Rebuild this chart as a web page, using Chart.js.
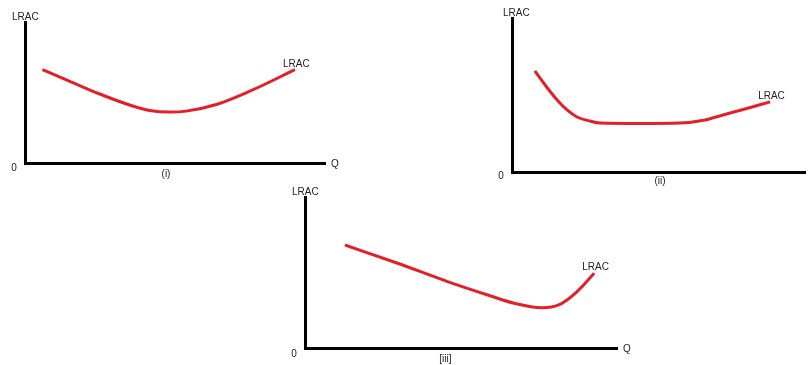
<!DOCTYPE html>
<html>
<head>
<meta charset="utf-8">
<script src="https://cdn.jsdelivr.net/npm/chart.js@4/dist/chart.umd.min.js"></script>
<style>
  body { margin: 0; background: #fff; }
  #wrap { position: relative; width: 812px; height: 365px; overflow: hidden; }
  canvas { position: absolute; }
</style>
</head>
<body>
<div id="wrap">
  <canvas id="panel-i"></canvas>
  <canvas id="panel-ii"></canvas>
  <canvas id="panel-iii"></canvas>
</div>
<script>
// axis / curve labels
const yAxisLabel = 'LRAC';
const xAxisLabel = 'Q';
const originLabel = '0';
const curveLabel = 'LRAC';
const captions = ['(i)', '(ii)', '[iii]'];

// panel (i): U-shaped LRAC
const qI = [5.8, 13.6, 24.7, 35.9, 41.5, 48.2, 53.7, 63.8, 74.9, 90];
const costI = [66.2, 59.2, 49.1, 40.4, 37.3, 36.1, 36.8, 41.5, 50.9, 66.2];

// panel (ii): steep fall, long flat bottom, slow rise
const qII = [7.8, 11.3, 15.4, 18.8, 22.2, 26.6, 30.0, 43.7, 57.3, 65.9, 72.0, 79.5, 88.1];
const costII = [65.6, 56.5, 46.8, 40.3, 35.7, 33.1, 31.8, 31.5, 31.8, 33.8, 37.0, 40.9, 45.5];

// panel (iii): long slow fall, sharp rise
const qIII = [12.8, 29.7, 45.7, 58.6, 67.1, 75.9, 81.3, 86.6, 92.7];
const costIII = [68.2, 56.1, 44.0, 35.1, 29.6, 26.7, 28.5, 36.2, 49.5];

const labelFont = '10px "Liberation Sans", Arial, sans-serif';

// draws the text labels around each panel, placed from the scales
const econLabels = {
  id: 'econLabels',
  afterDraw(chart, args, opts) {
    const ctx = chart.ctx;
    const area = chart.chartArea;
    const xs = chart.scales.x;
    ctx.save();
    ctx.font = labelFont;
    ctx.fillStyle = '#222';

    // y axis title above the axis
    ctx.textAlign = 'left';
    ctx.textBaseline = 'alphabetic';
    ctx.fillText(yAxisLabel, area.left + opts.topDx, area.top - 2);

    // origin
    ctx.textAlign = 'center';
    ctx.textBaseline = 'middle';
    ctx.fillText(originLabel, area.left - 11, area.bottom + opts.zeroDy);

    // Q at end of x axis
    if (opts.showQ) {
      ctx.textAlign = 'left';
      ctx.fillText(xAxisLabel, area.right + 6, area.bottom + 1);
    }

    // caption under x axis
    ctx.textAlign = 'center';
    ctx.fillText(opts.caption, xs.getPixelForValue(opts.captionAt), area.bottom + opts.captionDy);

    // curve label near the last point
    const pts = chart.getDatasetMeta(0).data;
    const last = pts[pts.length - 1];
    ctx.textAlign = 'left';
    ctx.textBaseline = 'alphabetic';
    ctx.fillText(curveLabel, last.x - 12, last.y - 3);
    ctx.restore();
  }
};

function makePanel(id, box, pad, xs, ys, labelOpts) {
  const canvas = document.getElementById(id);
  canvas.style.left = box.left + 'px';
  canvas.style.top = box.top + 'px';
  canvas.width = box.width;
  canvas.height = box.height;

  const points = xs.map((x, i) => ({ x: x, y: ys[i] }));

  const axis = {
    type: 'linear',
    min: 0,
    max: 100,
    grid: { display: false, drawTicks: false },
    ticks: { display: false },
    border: { display: true, color: '#000', width: 3 }
  };

  return new Chart(canvas.getContext('2d'), {
    type: 'scatter',
    data: {
      datasets: [{
        data: points,
        showLine: true,
        borderColor: '#e3202a',
        borderWidth: 3,
        cubicInterpolationMode: 'monotone',
        pointRadius: 0,
        fill: false
      }]
    },
    options: {
      responsive: false,
      animation: false,
      layout: { padding: pad },
      scales: { x: axis, y: axis },
      plugins: {
        legend: { display: false },
        tooltip: { enabled: false },
        econLabels: labelOpts
      }
    },
    plugins: [econLabels]
  });
}

makePanel('panel-i',
  { left: 0, top: 0, width: 345, height: 190 },
  { left: 25, top: 22, right: 20, bottom: 27 },
  qI, costI,
  { caption: captions[0], captionAt: 47, captionDy: 11, topDx: -13, zeroDy: 5, showQ: true });

makePanel('panel-ii',
  { left: 490, top: 0, width: 322, height: 195 },
  { left: 22, top: 18, right: 7, bottom: 23 },
  qII, costII,
  { caption: captions[1], captionAt: 50.5, captionDy: 9, topDx: -9, zeroDy: 4, showQ: false });

makePanel('panel-iii',
  { left: 280, top: 175, width: 370, height: 190 },
  { left: 25, top: 22, right: 33, bottom: 17 },
  qIII, costIII,
  { caption: captions[2], captionAt: 45, captionDy: 11, topDx: -13, zeroDy: 6, showQ: true });
</script>
</body>
</html>
